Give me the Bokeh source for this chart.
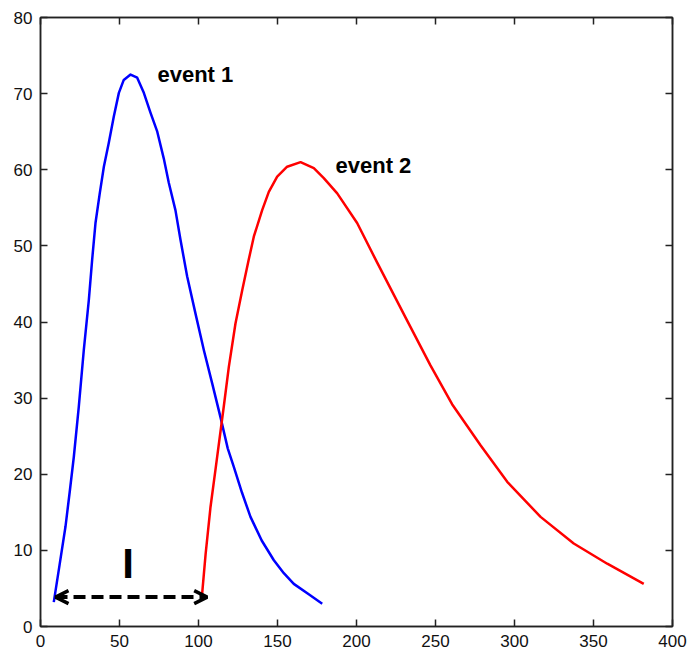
from bokeh.plotting import figure
from bokeh.models import LinearAxis, Range1d, FixedTicker, Arrow, OpenHead, Label
from bokeh.embed import file_html
from bokeh.resources import INLINE

# ---- data ----
event1_x = [8.4, 12.0, 15.8, 18.5, 21.1, 24.2, 27.4, 30.6, 32.7, 34.8, 37.5, 40.1, 43.2, 46.4,
            49.6, 52.7, 57.0, 61.2, 65.4, 69.6, 73.9, 78.0, 81.2, 85.4, 88.6, 92.8, 98.1,
            103.4, 108.7, 113.9, 118.5, 122.3, 127.5, 132.9, 140.0, 147.7, 154.0, 160.3,
            170.0, 178.3]
event1_y = [3.2, 8.0, 13.1, 17.7, 22.3, 28.8, 36.3, 42.9, 48.2, 53.0, 56.9, 60.4, 63.5, 67.0,
            70.1, 71.8, 72.5, 72.1, 70.1, 67.5, 65.0, 61.5, 58.3, 54.7, 50.8, 46.0, 41.1,
            36.3, 31.9, 27.5, 23.4, 21.0, 17.6, 14.4, 11.3, 8.7, 7.0, 5.6,
            4.2, 3.0]

event2_x = [102.3, 104.5, 107.6, 111.0, 116.0, 119.2, 123.4, 127.7, 131.8, 135.0, 140.3, 144.5,
            149.8, 156.1, 164.6, 173.0, 179.3, 187.8, 200.4, 213.1, 231.0, 246.8, 260.5,
            278.5, 295.4, 316.5, 337.5, 358.7, 381.8]
event2_y = [4.3, 9.5, 15.7, 21.0, 28.9, 34.1, 39.8, 44.2, 48.2, 51.2, 54.7, 57.1,
            59.1, 60.4, 61.0, 60.2, 58.9, 56.9, 53.0, 47.8, 40.6, 34.3, 29.2,
            23.8, 19.0, 14.4, 10.9, 8.25, 5.6]

x_ticks = [0, 50, 100, 150, 200, 250, 300, 350, 400]
y_ticks = [0, 10, 20, 30, 40, 50, 60, 70, 80]

arrow_x = [9.5, 105.5]
arrow_y = [3.86, 3.86]

labels_text = ["event 1", "event 2", "I"]
labels_x = [74.0, 186.7, 55.5]
labels_y = [72.5, 60.5, 8.3]

# ---- figure ----
p = figure(width=687, height=656, output_backend="svg", toolbar_location=None,
           x_range=Range1d(0, 400), y_range=Range1d(0, 80),
           min_border_left=40, min_border_right=15, min_border_top=17, min_border_bottom=30,
           x_axis_location=None, y_axis_location=None)
p.grid.visible = False
p.outline_line_color = "#222222"
p.outline_line_width = 1.5
p.background_fill_color = "white"
p.border_fill_color = "white"

bottom = LinearAxis(ticker=FixedTicker(ticks=x_ticks))
top = LinearAxis(ticker=FixedTicker(ticks=x_ticks),
                 major_label_overrides={t: "" for t in x_ticks})
left = LinearAxis(ticker=FixedTicker(ticks=y_ticks))
right = LinearAxis(ticker=FixedTicker(ticks=y_ticks),
                   major_label_overrides={t: "" for t in y_ticks})
p.add_layout(bottom, "below")
p.add_layout(left, "left")
p.add_layout(top, "above")
p.add_layout(right, "right")

for ax, show in [(bottom, True), (top, False), (left, True), (right, False)]:
    ax.axis_line_color = "#222222"
    ax.axis_line_width = 1.5
    ax.major_tick_line_color = "#222222"
    ax.major_tick_line_width = 1.5
    ax.major_tick_in = 7
    ax.major_tick_out = 0
    ax.minor_tick_line_color = None
    ax.major_label_text_font = "Liberation Sans"
    ax.major_label_text_font_size = "17px"
    ax.major_label_text_color = "#111111"
    ax.major_label_standoff = 8 if show else 0

p.line(event1_x, event1_y, line_color="#0000FF", line_width=2.5, line_join="round")
p.line(event2_x, event2_y, line_color="#FF0000", line_width=2.5, line_join="round")

p.add_layout(Arrow(start=OpenHead(size=13, line_width=3.5, line_color="black"),
                   end=OpenHead(size=13, line_width=3.5, line_color="black"),
                   x_start=arrow_x[0], y_start=arrow_y[0], x_end=arrow_x[1], y_end=arrow_y[1],
                   line_width=4, line_color="black", line_dash="12 6"))

for t, x, y in zip(labels_text, labels_x, labels_y):
    big = (t == "I")
    p.add_layout(Label(x=x, y=y, text=t, text_font="Liberation Sans",
                       text_font_style="bold", text_font_size="42px" if big else "22px",
                       text_align="center" if big else "left", text_baseline="middle",
                       text_color="black"))

open("out.html", "w").write(file_html(p, INLINE))
